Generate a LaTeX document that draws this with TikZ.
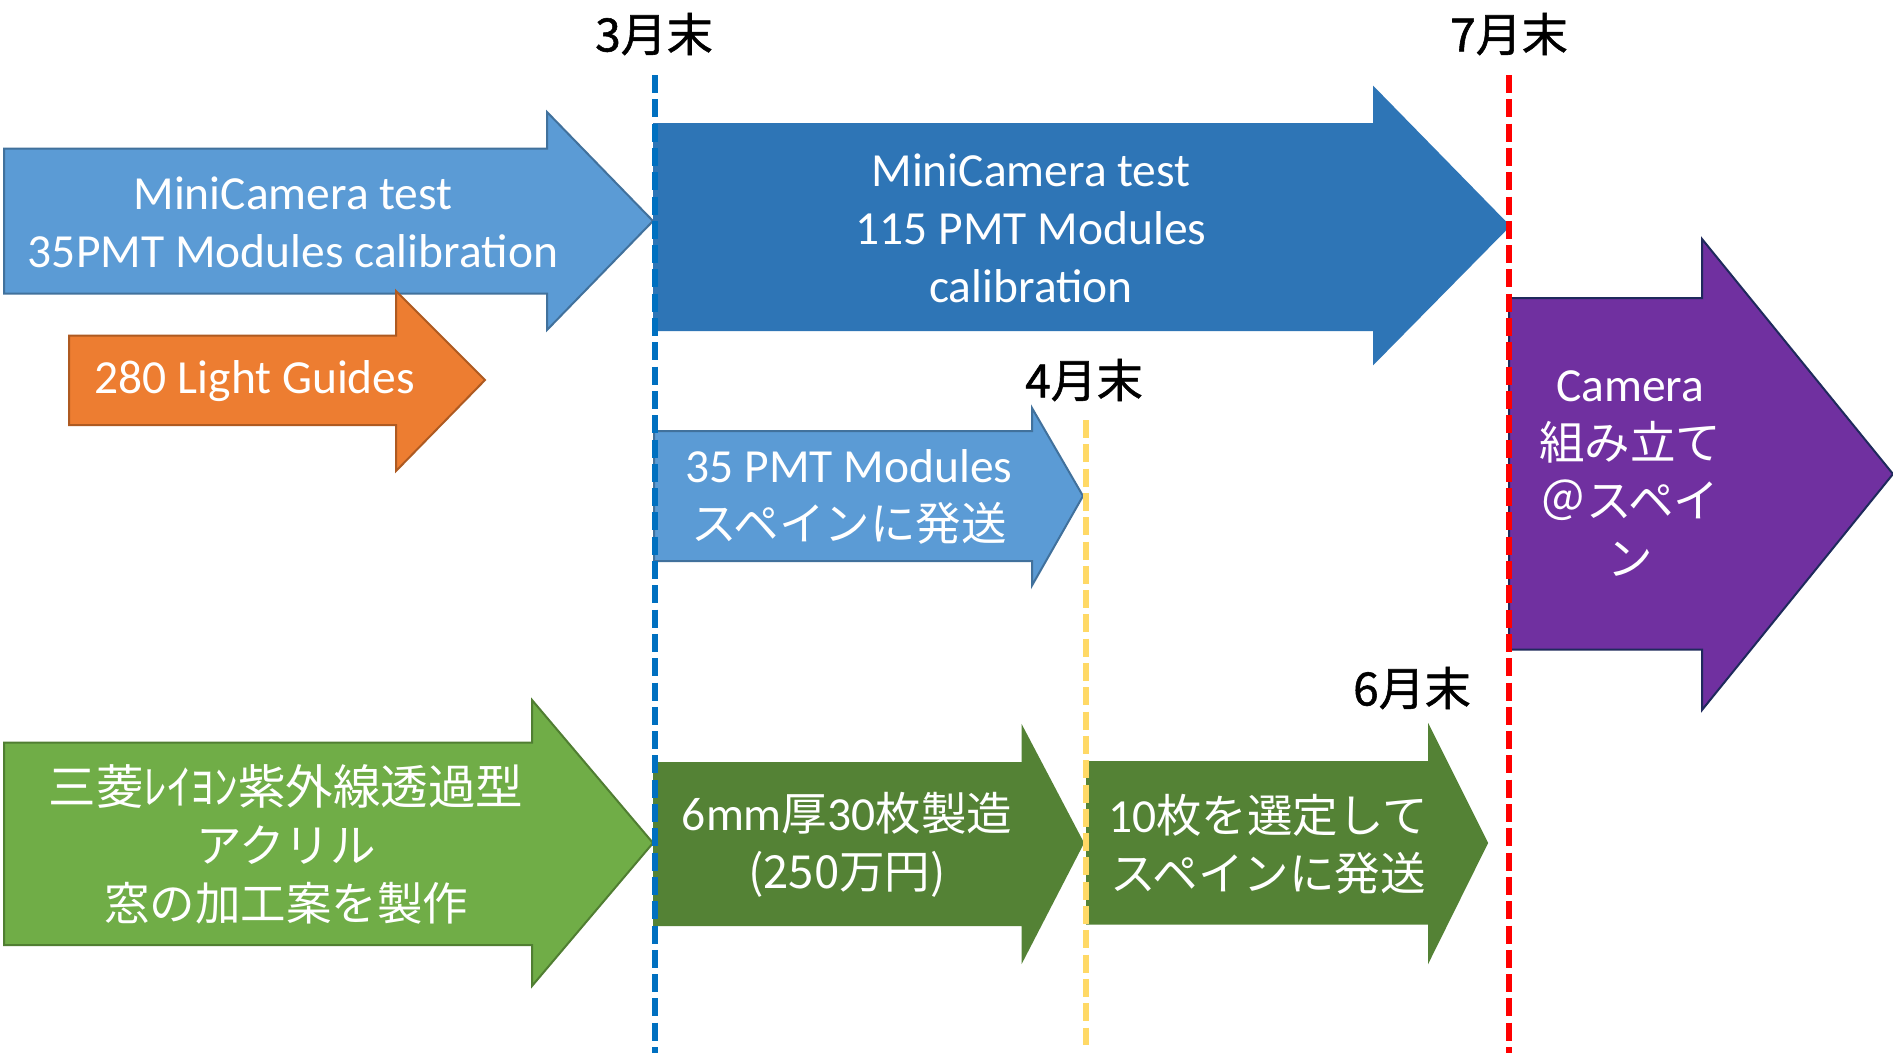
\documentclass[tikz,border=0pt]{standalone}
\usepackage{fontspec}
\setmainfont{Carlito}
\newfontfamily\jpfont{Noto Sans CJK JP}
\newfontfamily\jpbfont{Noto Sans CJK JP}[FakeBold=1.2]
\newcommand\J[1]{{\jpfont\fontsize{45.5}{58}\selectfont #1}}
\newcommand\JL[1]{{\jpfont\fontsize{47.5}{58}\selectfont #1}}
\newcommand\myarrow[9]{\path[#1] (#2,#3) -- (#5,#3) -- (#5,#6) -- (#8,#9) -- (#5,#7) -- (#5,#4) -- (#2,#4) -- cycle;}
\definecolor{lblue}{HTML}{5B9BD5}
\definecolor{lblueb}{HTML}{41719C}
\definecolor{dblue}{HTML}{2E75B6}
\definecolor{orng}{HTML}{ED7D31}
\definecolor{orngb}{HTML}{AE5A21}
\definecolor{purp}{HTML}{7030A0}
\definecolor{purpb}{HTML}{1F2A5C}
\definecolor{lgreen}{HTML}{70AD47}
\definecolor{lgreenb}{HTML}{507E32}
\definecolor{dgreen}{HTML}{548235}
\definecolor{vblue}{HTML}{0070C0}
\definecolor{vyel}{HTML}{FFD966}
\tikzset{
  txt/.style={align=center,text=white,inner sep=0pt,font=\fontsize{47.5}{58}\selectfont},
  lbl/.style={inner sep=0pt,text=black,font=\jpbfont\fontsize{46}{56}\selectfont},
  vline/.style={line width=6pt,dash pattern=on 18pt off 6.3pt},
  arrowshape/.style={line width=2pt,line join=miter}
}
\begin{document}
\begin{tikzpicture}[x=1pt,y=-1pt]
\useasboundingbox (0,0) rectangle (1893,1060);
\fill[white] (0,0) rectangle (1893,1060);
% arrows
\myarrow{arrowshape,fill=lblue,draw=lblueb}{4}{148.5}{293.5}{547}{112}{330}{653}{221}
\myarrow{arrowshape,fill=orng,draw=orngb}{69}{335.5}{425}{396}{291}{471}{485}{380}
\myarrow{arrowshape,fill=dblue,draw=dblue}{654}{124}{330}{1374}{88}{363}{1509}{226}
\myarrow{arrowshape,fill=lblue,draw=lblueb}{654}{431}{561}{1032}{408}{585.5}{1083}{496}
\myarrow{arrowshape,fill=purp,draw=purpb}{1509}{298}{649.5}{1702}{239}{710}{1893}{474}
\myarrow{arrowshape,fill=lgreen,draw=lgreenb}{4}{742.5}{945}{532}{700}{986}{653}{843}
\myarrow{arrowshape,fill=dgreen,draw=dgreen}{654}{763}{925}{1022.6}{728}{960}{1083}{843}
\myarrow{arrowshape,fill=dgreen,draw=dgreen}{1087}{762}{923.6}{1429}{727}{960}{1487}{843}
% texts
\node[txt] (t1) at (293,222) {MiniCamera test\\35PMT Modules calibration};
\node[txt] (t2) at (255,381) {280 Light Guides};
\node[txt] (t3) at (1031,228) {MiniCamera test\\115 PMT Modules\\calibration};
\node[txt] (t4) at (849,497) {35 PMT Modules\\\J{スペインに発送}};
\node[txt] (t5) at (1630,474) {Camera\\\J{組み立て}\\\J{＠スペイ}\\\J{ン}};
\node[txt] (t6) at (286,844) {\JL{三菱ﾚｲﾖﾝ紫外線透過型}\\\J{アクリル}\\\J{窓の加工案を製作}};
\node[txt] (t7) at (847,845) {6mm\J{厚}30\J{枚製造}\\\J{(250万円)}};
\node[txt] (t8) at (1268,844) {10\J{枚を選定して}\\\J{スペインに発送}};
% milestone labels
\node[lbl] (m3) at (654,34) {3月末};
\node[lbl] (m7) at (1509,34) {7月末};
\node[lbl] (m4) at (1084,380) {4月末};
\node[lbl] (m6) at (1412,688) {6月末};
% dashed milestone lines
\coordinate (b3t) at (655,75); \coordinate (b3b) at (655,1053);
\coordinate (r7t) at (1509,75); \coordinate (r7b) at (1509,1053);
\coordinate (y4t) at (1086,420); \coordinate (y4b) at (1086,1045);
\draw[vline,vblue] (b3t) -- (b3b);
\draw[vline,red] (r7t) -- (r7b);
\draw[vline,vyel] (y4t) -- (y4b);
\end{tikzpicture}
\end{document}
